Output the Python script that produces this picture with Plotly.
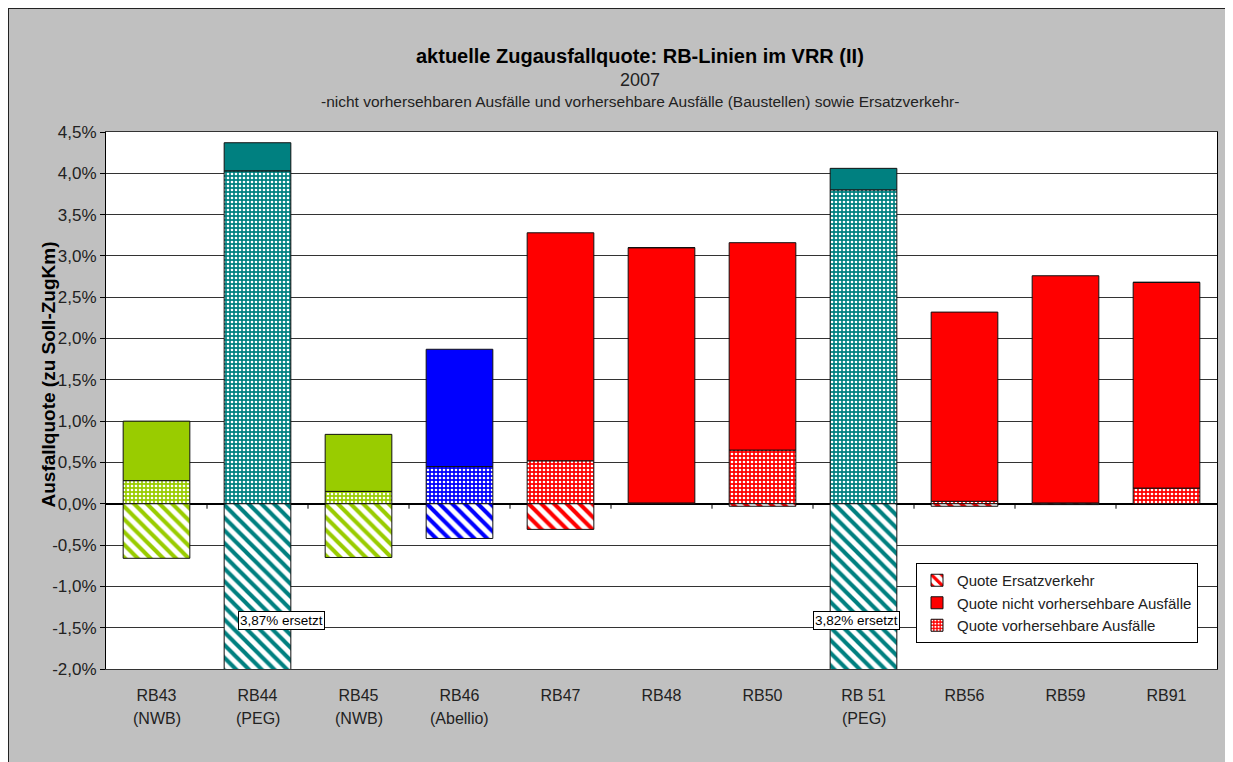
import plotly.graph_objects as go

# ---------------- data ----------------
categories = ["RB43", "RB44", "RB45", "RB46", "RB47", "RB48", "RB50", "RB 51", "RB56", "RB59", "RB91"]
operators = ["(NWB)", "(PEG)", "(NWB)", "(Abellio)", "", "", "", "(PEG)", "", "", ""]
vorhersehbar = [0.28, 4.03, 0.15, 0.45, 0.52, 0.01, 0.65, 3.80, 0.03, 0.01, 0.19]
nicht_vorhersehbar = [0.72, 0.34, 0.69, 1.42, 2.76, 3.09, 2.51, 0.26, 2.29, 2.75, 2.49]
ersatzverkehr = [-0.66, -3.87, -0.65, -0.42, -0.31, 0.0, -0.03, -3.82, -0.03, -0.01, 0.0]
operator_group = ["NWB", "PEG", "NWB", "Abellio", "DB", "DB", "DB", "PEG", "DB", "DB", "DB"]
y_ticks = [-2.0, -1.5, -1.0, -0.5, 0.0, 0.5, 1.0, 1.5, 2.0, 2.5, 3.0, 3.5, 4.0, 4.5]

series_names = ["Quote vorhersehbare Ausfälle", "Quote nicht vorhersehbare Ausfälle", "Quote Ersatzverkehr"]

# ---------------- styles ----------------
group_colors = {"NWB": "#99CC00", "PEG": "#008080", "Abellio": "#0000FF", "DB": "#FF0000"}
FONT = "Liberation Sans, Arial, sans-serif"

OFF = 8  # page margin of the html body
W, H = 1225, 754
L, R, T, B = 98, 16, 124, 93
PW, PH = W - L - R, H - T - B


def px_x(p):
    """reference screen x -> paper x"""
    return (p - OFF - L) / PW


def px_y(p):
    """reference screen y -> paper y"""
    return (H - B - (p - OFF)) / PH


fig = go.Figure()

legend_rank = {series_names[0]: 3, series_names[1]: 2, series_names[2]: 1}

for s_idx, (name, values) in enumerate(zip(series_names, [vorhersehbar, nicht_vorhersehbar, ersatzverkehr])):
    for grp, col in group_colors.items():
        xs = [c for c, g in zip(categories, operator_group) if g == grp]
        ys = [v for v, g in zip(values, operator_group) if g == grp]
        if s_idx == 0:
            pattern = dict(shape=".", fgcolor="white", bgcolor=col, size=4, solidity=0.35, fillmode="replace")
        elif s_idx == 1:
            pattern = dict(shape="")
        else:
            pattern = dict(shape="\\", fgcolor=col, bgcolor="white", size=9, solidity=0.45, fillmode="replace")
        fig.add_trace(go.Bar(
            x=xs, y=ys, name=name,
            marker=dict(color=col, line=dict(color="#111111", width=1), pattern=pattern),
            showlegend=(grp == "DB"),
            legendrank=legend_rank[name],
            hoverinfo="skip",
        ))

# replacement annotations for bars clipped below the axis
for cat, val, shift in [(categories[1], ersatzverkehr[1], 24), (categories[7], ersatzverkehr[7], -7)]:
    fig.add_annotation(
        x=cat, y=-1.41, xref="x", yref="y", xshift=shift,
        text=f"{-val:.2f}".replace(".", ",") + "% ersetzt",
        showarrow=False, bgcolor="white", bordercolor="black", borderwidth=1, borderpad=1,
        font=dict(family=FONT, size=13.5, color="black"),
    )

# second line of category labels
for cat, op in zip(categories, operators):
    if op:
        fig.add_annotation(
            x=cat, y=0, xref="x", yref="paper", yshift=-49, yanchor="middle",
            text=op, showarrow=False, font=dict(family=FONT, size=16, color="#222222"),
        )

# tick marks between categories on the zero line
for i in range(len(categories) - 1):
    fig.add_shape(type="line", xref="x", yref="y", x0=i + 0.5, x1=i + 0.5, y0=0, y1=-0.06,
                  line=dict(color="black", width=1))

# titles
fig.add_annotation(x=px_x(640), y=px_y(43), xref="paper", yref="paper", showarrow=False,
                   text="<b>aktuelle Zugausfallquote: RB-Linien im VRR (II)</b>",
                   font=dict(family=FONT, size=20, color="black"))
fig.add_annotation(x=px_x(640), y=px_y(68), xref="paper", yref="paper", showarrow=False,
                   text="2007", font=dict(family=FONT, size=18, color="#222222"))
fig.add_annotation(x=px_x(640), y=px_y(91), xref="paper", yref="paper", showarrow=False,
                   text="-nicht vorhersehbaren Ausfälle und vorhersehbare Ausfälle (Baustellen) sowie Ersatzverkehr-",
                   font=dict(family=FONT, size=15.5, color="#222222"))
fig.add_annotation(x=px_x(35), y=px_y(375), xref="paper", yref="paper", showarrow=False,
                   text="<b>Ausfallquote (zu Soll-ZugKm)</b>", textangle=-90,
                   font=dict(family=FONT, size=19, color="black"))

# dark frame on the left and top edge of the chart area
fig.add_shape(type="line", xref="paper", yref="paper", x0=px_x(8.5), x1=px_x(8.5), y0=px_y(8), y1=px_y(800),
              line=dict(color="#222222", width=1))
fig.add_shape(type="line", xref="paper", yref="paper", x0=px_x(8), x1=px_x(1300), y0=px_y(8.5), y1=px_y(8.5),
              line=dict(color="#222222", width=1))

fig.update_layout(
    width=W, height=H,
    margin=dict(l=L, r=R, t=T, b=B, autoexpand=False),
    paper_bgcolor="#C0C0C0", plot_bgcolor="white",
    barmode="relative", bargap=0.34,
    font=dict(family=FONT, size=16, color="#222222"),
    showlegend=True,
    legend=dict(x=px_x(916), y=px_y(563), xanchor="left", yanchor="top",
                bgcolor="white", bordercolor="black", borderwidth=1,
                font=dict(family=FONT, size=15, color="#222222"),
                traceorder="normal", itemwidth=30),
    xaxis=dict(categoryorder="array", categoryarray=categories, showline=True, mirror=True,
               linecolor="#333333", linewidth=1, ticks="", ticklabelstandoff=12,
               tickfont=dict(family=FONT, size=16, color="#222222"), showgrid=False),
    yaxis=dict(range=[-2.0, 4.5], tickvals=y_ticks,
               ticktext=[f"{v:.1f}".replace(".", ",") + "%" for v in y_ticks],
               showgrid=True, gridcolor="#333333", gridwidth=1,
               zeroline=True, zerolinecolor="black", zerolinewidth=1.5,
               showline=True, linecolor="black", linewidth=1, mirror=True,
               ticks="outside", ticklen=5, tickcolor="black",
               tickfont=dict(family=FONT, size=17, color="#222222")),
)

fig.write_html("out.html")
